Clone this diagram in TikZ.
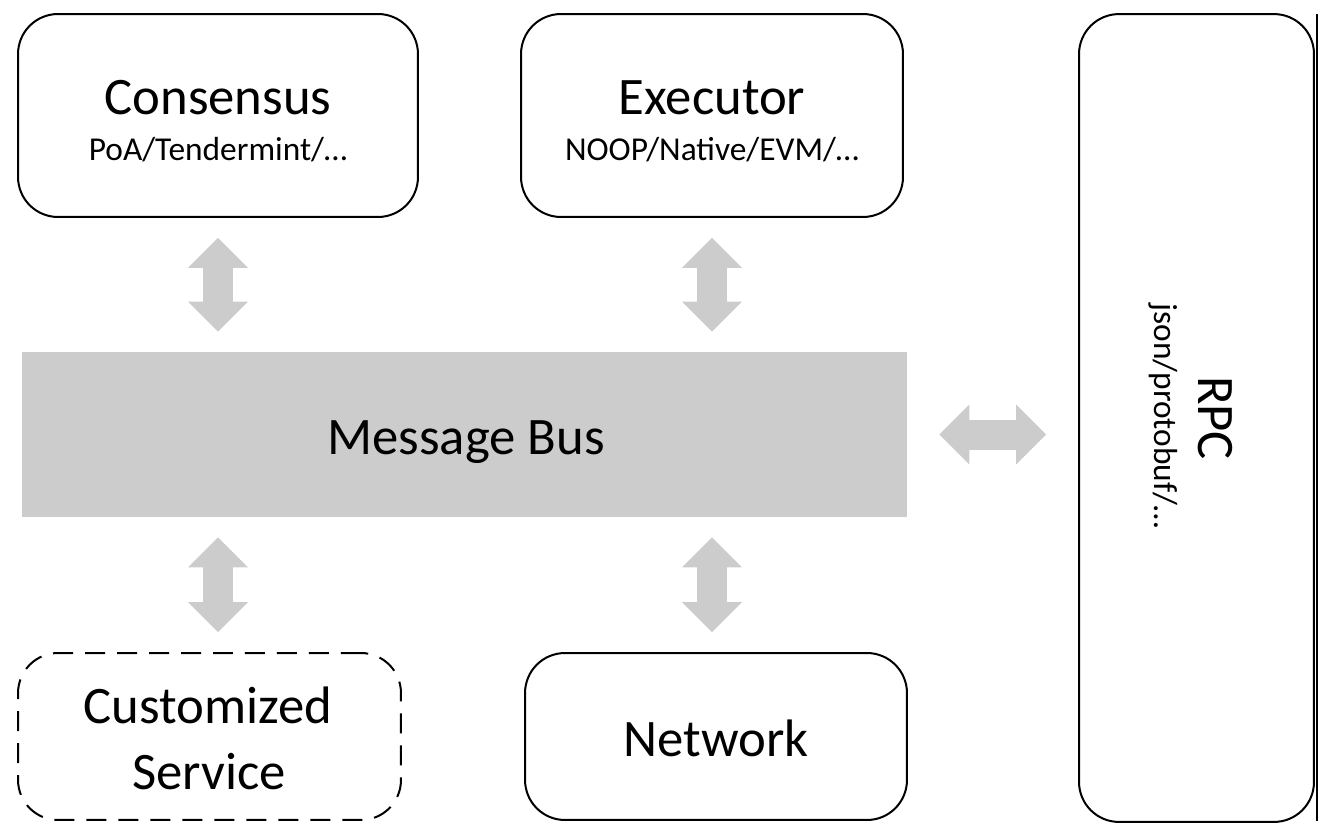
\documentclass[tikz,border=0pt]{standalone}
\usepackage{fontspec}
\setmainfont{Carlito}
\usetikzlibrary{arrows.meta}
\definecolor{busgray}{HTML}{CCCCCC}
\tikzset{
  box/.style={draw, line width=0.04cm, rounded corners=0.8cm},
  title/.style={font=\fontsize{30}{36}\selectfont, anchor=base, inner sep=0pt},
  subtitle/.style={font=\fontsize{19}{23}\selectfont, anchor=base, inner sep=0pt},
  link/.style={busgray, line width=0.6cm, shorten <=0.4cm, shorten >=0.4cm,
    {Triangle[width=1.2cm,length=0.6cm,line width=0pt]}-{Triangle[width=1.2cm,length=0.6cm,line width=0pt]}}
}
\begin{document}
\begin{tikzpicture}[x=0.02cm,y=-0.02cm]
  \useasboundingbox (0,0) rectangle (1335,835);
  \node[box, minimum width=8cm, minimum height=4.06cm] (cons) at (218,115.5) {};
  \node[box, minimum width=7.64cm, minimum height=4.06cm] (exec) at (712,115.5) {};
  \node[fill=busgray, minimum width=17.7cm, minimum height=3.3cm] (bus) at (464.5,434.5) {};
  \node[box, dash pattern=on 0.4cm off 0.24cm, minimum width=7.66cm, minimum height=3.34cm] (cust) at (209.5,736.5) {};
  \node[box, minimum width=7.64cm, minimum height=3.34cm] (net) at (716,736.5) {};
  \node[box, minimum width=4.7cm, minimum height=16.16cm] (rpc) at (1196.5,418) {};
  \draw[line width=0.04cm] ([xshift=0.04cm,yshift=-0.02cm]rpc.north east) -- ([xshift=0.04cm,yshift=0.04cm]rpc.south east);
  \node[title] (constitle) at (218,114) {Consensus};
  \node[subtitle] (consinfo) at (218,160) {PoA/Tendermint/…};
  \node[title] (exectitle) at (712,114) {Executor};
  \node[subtitle] (execinfo) at (712,160) {NOOP/Native/EVM/…};
  \node[title] (bustitle) at (466,454) {Message Bus};
  \node[title] (custtitle) at (208,723) {Customized};
  \node[title] (custtitle2) at (209,789) {Service};
  \node[title] (nettitle) at (716,756) {Network};
  \node[title, rotate=-90] (rpctitle) at (1198,418) {RPC};
  \node[subtitle, rotate=-90] (rpcinfo) at (1154,416) {json/protobuf/…};
  \draw[link] (cons.south) -- (cons.south |- bus.north);
  \draw[link] (exec.south) -- (exec.south |- bus.north);
  \draw[link] (bus.south -| cons.south) -- (cust.north -| cons.south);
  \draw[link] (bus.south -| exec.south) -- (net.north -| exec.south);
  \draw[link, shorten <=0.64cm, shorten >=0.64cm] (bus.east) -- (bus.east -| rpc.west);
\end{tikzpicture}
\end{document}
